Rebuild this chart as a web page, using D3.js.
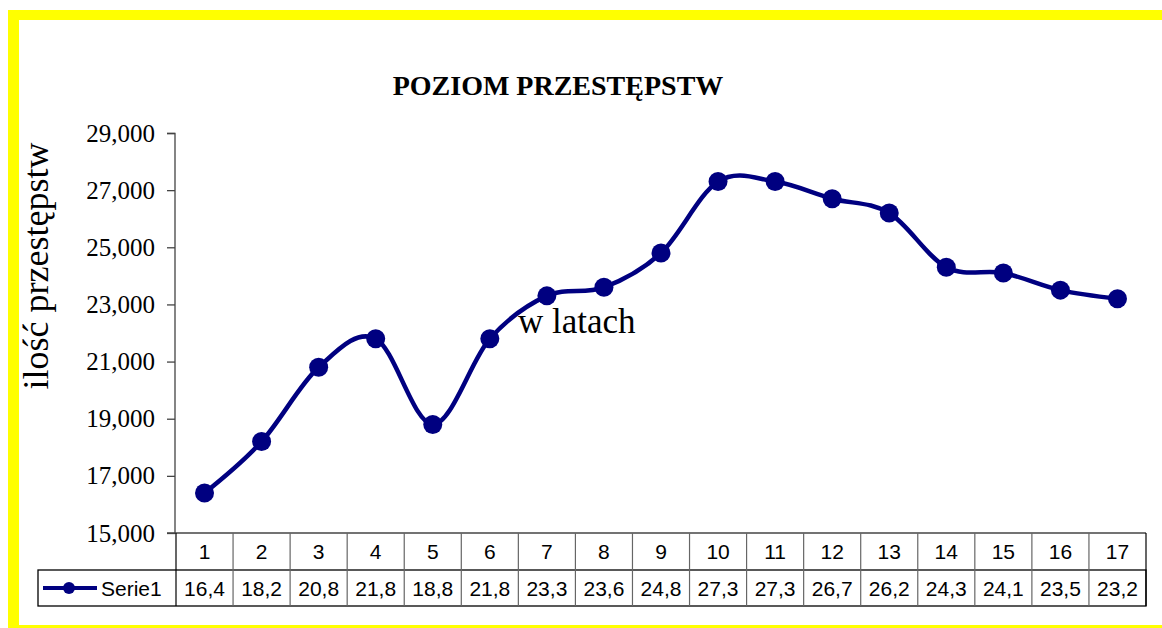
<!DOCTYPE html>
<html>
<head>
<meta charset="utf-8">
<script src="https://cdn.jsdelivr.net/npm/d3@7"></script>
<style>
  body { margin: 0; background: #fff; }
  svg { display: block; }
</style>
</head>
<body>
<svg id="chart"></svg>
<script>
const years = ["1","2","3","4","5","6","7","8","9","10","11","12","13","14","15","16","17"];
const crimes = [16.4, 18.2, 20.8, 21.8, 18.8, 21.8, 23.3, 23.6, 24.8, 27.3, 27.3, 26.7, 26.2, 24.3, 24.1, 23.5, 23.2];
const yTicks = [15, 17, 19, 21, 23, 25, 27, 29];
const seriesName = "Serie1";
const chartTitle = "POZIOM PRZESTĘPSTW";
const yTitle = "ilość przestępstw";
const xTitle = "w latach";

const width = 1162, height = 628;
const navy = "#000080";
const pl = d3.formatLocale({decimal: ",", thousands: " ", grouping: [3], currency: ["", " zł"]});

const svg = d3.select("#chart")
  .attr("width", width)
  .attr("height", height);

// yellow frame (only top, left and bottom are visible)
svg.append("rect").attr("x", 8).attr("y", 10).attr("width", width - 8).attr("height", 10).attr("fill", "#ffff00");
svg.append("rect").attr("x", 8).attr("y", 10).attr("width", 11).attr("height", height - 10).attr("fill", "#ffff00");
svg.append("rect").attr("x", 8).attr("y", 625).attr("width", width - 8).attr("height", 3).attr("fill", "#ffff00");

const x = d3.scaleBand().domain(years).range([176, 1146]);
const y = d3.scaleLinear().domain([15, 29]).range([533, 133]);

// title
svg.append("text")
  .attr("x", 558).attr("y", 95)
  .attr("text-anchor", "middle")
  .style("font-family", "'Liberation Serif', 'Times New Roman', serif")
  .style("font-weight", "bold")
  .style("font-size", "28px")
  .text(chartTitle);

// y axis
const yAxis = svg.append("g")
  .attr("transform", "translate(175,0)")
  .call(d3.axisLeft(y).tickValues(yTicks).tickSize(8).tickPadding(12).tickFormat(pl.format(".3f")));
yAxis.select(".domain").attr("stroke", "#444").attr("stroke-width", 1.3).attr("d", "M-8,133.5H0V533");
yAxis.selectAll(".tick line").attr("stroke", "#444").attr("stroke-width", 1.3);
yAxis.selectAll(".tick text")
  .style("font-family", "'Liberation Serif', 'Times New Roman', serif")
  .style("font-size", "25px")
  .attr("fill", "#000");

svg.append("text")
  .attr("transform", "translate(48,266) rotate(-90)")
  .attr("text-anchor", "middle")
  .style("font-family", "'Liberation Serif', 'Times New Roman', serif")
  .style("font-size", "36px")
  .text(yTitle);

// data table
const table = svg.append("g");
const sans = "'Liberation Sans', Arial, sans-serif";
const row1 = [533, 570], row2 = [570, 606];

table.append("line").attr("x1", 167).attr("x2", 1146).attr("y1", 533).attr("y2", 533)
  .attr("stroke", "#444").attr("stroke-width", 1.3);
table.append("rect").attr("x", 38).attr("y", row2[0]).attr("width", 1146 - 38).attr("height", row2[1] - row2[0])
  .attr("fill", "none").attr("stroke", "#000").attr("stroke-width", 1.3);
table.selectAll("line.col")
  .data(years.concat(["end"]))
  .enter().append("line")
  .attr("class", "col")
  .attr("x1", (d, i) => i < years.length ? x(d) : x.range()[1])
  .attr("x2", (d, i) => i < years.length ? x(d) : x.range()[1])
  .attr("y1", row1[0]).attr("y2", row2[1])
  .attr("stroke", (d, i) => (i === 0 || i === years.length) ? "#000" : "#666")
  .attr("stroke-width", 1.2);

table.selectAll("text.cat")
  .data(years)
  .enter().append("text")
  .attr("class", "cat")
  .attr("x", d => x(d) + x.bandwidth() / 2)
  .attr("y", 559)
  .attr("text-anchor", "middle")
  .style("font-family", sans).style("font-size", "21px")
  .text(d => d);

table.selectAll("text.val")
  .data(crimes)
  .enter().append("text")
  .attr("class", "val")
  .attr("x", (d, i) => x(years[i]) + x.bandwidth() / 2)
  .attr("y", 596)
  .attr("text-anchor", "middle")
  .style("font-family", sans).style("font-size", "21px")
  .text(d => pl.format(".1f")(d));

// legend key in table
table.append("line").attr("x1", 43).attr("x2", 97).attr("y1", 588).attr("y2", 588)
  .attr("stroke", navy).attr("stroke-width", 4);
table.append("circle").attr("cx", 69).attr("cy", 588).attr("r", 6).attr("fill", navy);
table.append("text").attr("x", 101).attr("y", 596)
  .style("font-family", sans).style("font-size", "21px")
  .text(seriesName);

// series line
const line = d3.line()
  .x((d, i) => x(years[i]) + x.bandwidth() / 2)
  .y(d => y(d))
  .curve(d3.curveCatmullRom.alpha(0));

svg.append("path")
  .datum(crimes)
  .attr("d", line)
  .attr("fill", "none")
  .attr("stroke", navy)
  .attr("stroke-width", 4.5);

svg.selectAll("circle.pt")
  .data(crimes)
  .enter().append("circle")
  .attr("class", "pt")
  .attr("cx", (d, i) => x(years[i]) + x.bandwidth() / 2)
  .attr("cy", d => y(d))
  .attr("r", 9.5)
  .attr("fill", navy);

// misplaced x-axis title, as in the original
svg.append("text")
  .attr("x", 518).attr("y", 333)
  .style("font-family", "'Liberation Serif', 'Times New Roman', serif")
  .style("font-size", "35px")
  .text(xTitle);
</script>
</body>
</html>
